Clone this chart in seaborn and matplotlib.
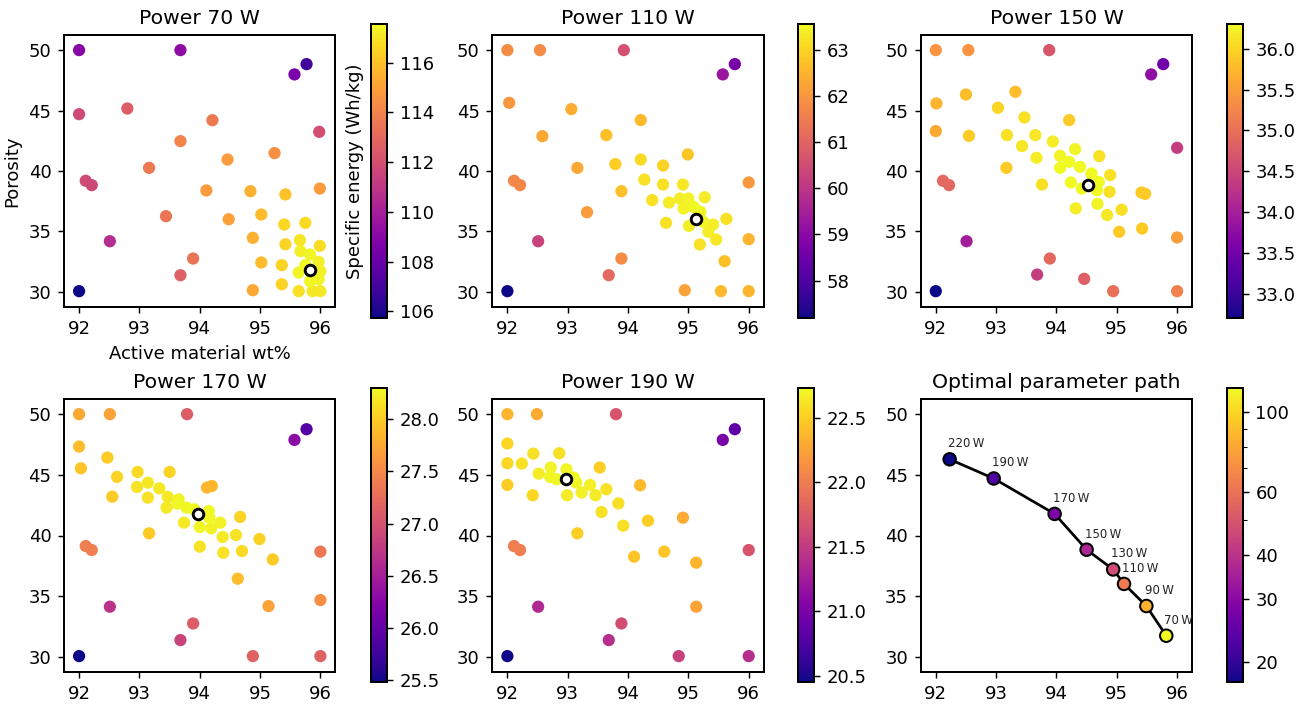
import numpy as np
import pandas as pd
import matplotlib
matplotlib.use("Agg")
import matplotlib.pyplot as plt
import seaborn as sns
from matplotlib.colors import Normalize, LogNorm
from matplotlib.cm import ScalarMappable
from matplotlib.ticker import FixedLocator, NullFormatter, FuncFormatter

# ---------------- data ----------------
x70 = [92.0, 93.68, 95.77, 95.57, 92.0, 92.80, 94.21, 95.98, 93.68, 95.24, 94.46, 93.16, 92.11, 92.21,
       94.11, 94.84, 95.42, 95.99, 93.44, 94.48, 95.02, 95.40, 95.75, 92.51, 94.88, 95.42, 95.66, 95.99,
       93.89, 95.02, 95.36, 93.68, 92.0, 94.88, 95.36, 95.64, 95.87, 96.0, 95.67, 95.83, 95.97, 95.64,
       96.0, 95.97, 95.83, 95.75]
y70 = [50.0, 50.0, 48.84, 47.99, 44.70, 45.17, 44.20, 43.24, 42.47, 41.48, 40.95, 40.26, 39.19, 38.83,
       38.39, 38.33, 38.06, 38.55, 36.26, 36.01, 36.40, 35.57, 35.71, 34.19, 34.47, 33.94, 34.28, 33.81,
       32.76, 32.43, 32.21, 31.38, 30.06, 30.14, 30.63, 30.06, 30.06, 30.06, 33.37, 33.09, 32.48, 31.60,
       31.71, 31.05, 30.88, 32.20]
e70 = [109.0, 109.2, 106.9, 108.6, 111.8, 112.6, 113.6, 112.0, 114.0, 114.4, 114.8, 113.6, 111.8, 111.7,
       114.8, 115.5, 116.0, 114.8, 113.5, 115.0, 115.8, 116.6, 116.7, 110.6, 115.5, 116.5, 117.0, 116.8,
       113.4, 115.8, 116.5, 112.7, 105.73, 115.2, 116.5, 116.9, 117.1, 117.1, 117.3, 117.4, 117.3, 117.4,
       117.3, 117.4, 117.5, 117.55]

x110 = [92.0, 92.54, 93.93, 95.77, 95.57, 92.03, 93.06, 94.21, 92.58, 93.64, 94.99, 93.16, 93.79, 94.21,
        94.58, 92.11, 92.21, 96.0, 94.27, 94.58, 94.91, 93.89, 94.40, 94.68, 94.86, 95.0, 95.27, 94.92,
        95.20, 93.32, 94.63, 95.01, 95.25, 95.41, 95.63, 95.33, 95.46, 96.0, 95.19, 92.51, 95.60, 93.89,
        93.68, 92.0, 94.94, 95.54, 96.0, 95.09]
y110 = [50.0, 50.0, 50.0, 48.84, 47.99, 45.64, 45.12, 44.21, 42.88, 42.97, 41.37, 40.26, 40.57, 40.95,
        40.45, 39.19, 38.83, 39.05, 39.29, 38.88, 38.88, 38.33, 37.59, 37.39, 37.72, 37.72, 37.83, 36.90,
        36.62, 36.59, 35.71, 35.46, 35.79, 35.57, 36.04, 34.97, 34.33, 34.36, 33.92, 34.19, 32.54, 32.76,
        31.38, 30.06, 30.14, 30.06, 30.06, 37.03]
e110 = [61.8, 61.8, 60.6, 58.7, 59.3, 62.0, 62.4, 62.6, 62.3, 62.7, 62.8, 62.3, 62.9, 63.1,
        63.0, 61.7, 61.7, 62.0, 63.2, 63.2, 63.3, 62.7, 63.2, 63.35, 63.4, 63.45, 63.35, 63.45,
        63.5, 62.1, 63.2, 63.4, 63.5, 63.4, 63.2, 63.4, 63.3, 62.5, 63.2, 60.3, 62.7, 61.8,
        61.1, 57.19, 62.2, 62.6, 62.5, 63.56]

x150 = [92.0, 92.54, 93.88, 95.77, 95.57, 92.50, 93.32, 92.01, 93.03, 93.47, 94.21, 92.0, 92.55, 93.18,
        93.65, 93.94, 93.43, 94.31, 93.67, 94.71, 96.0, 94.06, 94.21, 94.06, 94.39, 94.58, 94.89, 93.17,
        92.12, 92.22, 93.76, 94.24, 94.70, 94.42, 94.67, 94.88, 95.41, 95.47, 94.68, 94.32, 95.08, 94.84,
        95.04, 95.42, 96.0, 92.51, 93.89, 93.68, 94.46, 92.0, 94.94, 96.0]
y150 = [50.0, 50.0, 50.0, 48.84, 47.99, 46.33, 46.55, 45.59, 45.23, 44.43, 44.21, 43.30, 42.91, 42.97,
        42.97, 42.44, 42.06, 41.81, 41.09, 41.23, 41.92, 41.26, 40.76, 40.26, 40.34, 39.79, 39.66, 40.26,
        39.19, 38.83, 38.88, 39.05, 39.10, 38.55, 38.41, 38.28, 38.22, 38.11, 37.28, 36.91, 36.80, 36.36,
        34.97, 35.24, 34.50, 34.19, 32.76, 31.43, 31.08, 30.06, 30.06, 30.06]
e150 = [35.4, 35.4, 34.7, 33.5, 33.8, 35.8, 35.8, 35.7, 36.0, 36.1, 35.9, 35.6, 35.9, 36.1,
        36.15, 36.2, 36.15, 36.25, 36.2, 36.1, 34.4, 36.25, 36.3, 36.3, 36.3, 36.3, 36.1, 35.9,
        34.9, 34.9, 36.1, 36.3, 36.3, 36.3, 36.3, 36.1, 35.9, 35.9, 36.25, 36.2, 36.1, 36.15,
        35.9, 35.9, 35.5, 34.0, 34.9, 34.4, 34.8, 32.71, 35.0, 35.2]

x170 = [92.0, 92.51, 93.79, 95.77, 95.57, 92.0, 92.47, 92.03, 92.97, 93.50, 92.63, 94.20, 92.96, 93.14,
        93.33, 92.55, 93.14, 93.47, 93.65, 93.45, 93.78, 93.91, 94.15, 94.67, 93.74, 94.0, 94.19, 94.34,
        94.38, 94.60, 94.99, 93.16, 92.11, 92.21, 94.0, 94.39, 94.70, 95.21, 96.0, 94.63, 95.14, 96.0,
        92.51, 93.89, 93.68, 92.0, 94.88, 96.0, 93.63, 94.16, 94.12]
y170 = [50.0, 50.0, 50.0, 48.76, 47.88, 47.33, 46.42, 45.54, 45.24, 45.24, 44.83, 44.08, 44.0, 44.35,
        43.89, 43.20, 43.12, 43.18, 42.98, 42.30, 42.30, 42.16, 42.02, 41.53, 41.06, 40.70, 40.59, 41.06,
        39.88, 40.04, 39.71, 40.18, 39.13, 38.80, 39.08, 38.58, 38.72, 38.03, 38.67, 36.44, 34.18, 34.68,
        34.13, 32.75, 31.38, 30.06, 30.06, 30.06, 42.63, 41.47, 43.95]
e170 = [27.75, 27.7, 27.1, 25.9, 26.3, 27.9, 28.0, 27.95, 28.1, 28.05, 28.05, 27.85, 28.15, 28.2,
        28.2, 28.0, 28.15, 28.2, 28.25, 28.2, 28.28, 28.3, 28.28, 28.05, 28.2, 28.27, 28.25, 28.25,
        28.2, 28.15, 28.05, 28.0, 27.4, 27.4, 28.15, 28.15, 28.1, 28.0, 27.35, 27.9, 27.7, 27.55,
        26.7, 27.1, 26.85, 25.48, 27.15, 27.15, 28.28, 28.28, 27.85]

x190 = [92.0, 92.49, 93.80, 95.77, 95.57, 92.0, 92.43, 92.86, 92.0, 92.24, 92.52, 92.72, 93.53, 92.0,
        92.98, 92.82, 93.14, 93.23, 93.37, 94.20, 92.42, 92.99, 93.46, 93.64, 93.84, 93.56, 93.92, 94.33,
        94.91, 93.16, 92.11, 92.21, 94.10, 94.60, 95.13, 96.0, 95.13, 92.51, 93.89, 93.68, 92.0, 94.84,
        96.0, 92.71, 93.10]
y190 = [50.0, 50.0, 50.0, 48.76, 47.88, 47.58, 46.75, 46.78, 45.96, 45.93, 45.10, 45.60, 45.60, 44.17,
        45.46, 44.64, 44.36, 43.54, 44.17, 44.14, 43.32, 43.32, 43.32, 43.81, 42.65, 41.94, 40.81, 41.22,
        41.47, 40.18, 39.13, 38.80, 38.25, 38.67, 37.76, 38.80, 34.13, 34.13, 32.75, 31.38, 30.06, 30.06,
        30.06, 44.83, 44.77]
e190 = [22.35, 22.3, 21.7, 20.85, 21.0, 22.55, 22.6, 22.6, 22.55, 22.6, 22.65, 22.7, 22.5, 22.5,
        22.72, 22.72, 22.7, 22.68, 22.68, 22.4, 22.55, 22.65, 22.65, 22.6, 22.6, 22.6, 22.6, 22.5,
        22.3, 22.5, 22.0, 22.0, 22.45, 22.45, 22.35, 21.7, 22.25, 21.35, 21.65, 21.4, 20.45, 21.55,
        21.4, 22.72, 22.73]

# optimum locations (black rings) for each power
opt_power = [70, 110, 150, 170, 190]
opt_x = [95.82, 95.13, 94.52, 93.97, 92.97]
opt_y = [31.79, 36.01, 38.88, 41.80, 44.69]

# optimal parameter path
path_power = [220, 190, 170, 150, 130, 110, 90, 70]
path_x = [92.23, 92.96, 93.97, 94.50, 94.94, 95.12, 95.49, 95.82]
path_y = [46.28, 44.70, 41.78, 38.83, 37.20, 36.01, 34.19, 31.74]
path_e = [17.6, 22.73, 28.3, 36.35, 47.0, 63.56, 85.0, 117.0]

panels = [
    ("Power 70 W", x70, y70, e70),
    ("Power 110 W", x110, y110, e110),
    ("Power 150 W", x150, y150, e150),
    ("Power 170 W", x170, y170, e170),
    ("Power 190 W", x190, y190, e190),
]

# ---------------- layout ----------------
W, H = 1305, 704
fig = plt.figure(figsize=(W / 130, H / 130), dpi=130)

col_ax_left = [64, 492.3, 920.7]
col_cb_left = [371, 798.3, 1226.7]
row_ax = [(35, 307), (399, 672)]
row_cb = [(24, 318), (388, 682)]
ax_w = 271.5
cb_w = 16

def add_ax(left, top, bottom, width):
    return fig.add_axes([left / W, 1 - bottom / H, width / W, (bottom - top) / H])

cmap = "plasma"
for i in range(6):
    r, c = divmod(i, 3)
    ax = add_ax(col_ax_left[c], row_ax[r][0], row_ax[r][1], ax_w)
    cax = add_ax(col_cb_left[c], row_cb[r][0], row_cb[r][1], cb_w)
    if i < 5:
        title, xs, ys, es = panels[i]
        df = pd.DataFrame({"x": xs, "y": ys, "e": es})
        norm = Normalize(vmin=min(es), vmax=max(es))
        sns.scatterplot(data=df, x="x", y="y", hue="e", palette=cmap, hue_norm=norm,
                        s=46, linewidth=0, legend=False, ax=ax, zorder=2)
        sns.scatterplot(x=[opt_x[i]], y=[opt_y[i]], s=34, facecolor="white",
                        edgecolor="black", linewidth=1.6, legend=False, ax=ax, zorder=3)
        cb = fig.colorbar(ScalarMappable(norm=norm, cmap=cmap), cax=cax)
        if i == 0:
            cb.set_label("Specific energy (Wh/kg)", fontsize=10)
            cb.ax.yaxis.set_label_position("left")
            ax.set_xlabel("Active material wt%")
            ax.set_ylabel("Porosity")
        else:
            ax.set_xlabel("")
            ax.set_ylabel("")
    else:
        title = "Optimal parameter path"
        dfp = pd.DataFrame({"x": path_x, "y": path_y, "e": path_e, "p": path_power})
        lnorm = LogNorm(vmin=min(path_e), vmax=max(path_e))
        sns.lineplot(data=dfp, x="x", y="y", sort=False, color="black", linewidth=1.5,
                     ax=ax, zorder=2)
        sns.scatterplot(data=dfp, x="x", y="y", hue="e", palette=cmap, hue_norm=lnorm,
                        s=48, edgecolor="black", linewidth=1.1, legend=False, ax=ax, zorder=3)
        for px, py, pp in zip(path_x, path_y, path_power):
            ax.annotate(f"{pp}\u2009W", (px, py), xytext=(-1, 5), textcoords="offset points",
                        ha="left", va="bottom", fontsize=6.5, color="#222222")
        cb = fig.colorbar(ScalarMappable(norm=lnorm, cmap=cmap), cax=cax)
        cb.ax.yaxis.set_major_locator(FixedLocator([20, 30, 40, 60, 100]))
        cb.ax.yaxis.set_major_formatter(FuncFormatter(lambda v, p: f"{v:g}"))
        cb.ax.yaxis.set_minor_locator(FixedLocator([50, 70, 80, 90]))
        cb.ax.yaxis.set_minor_formatter(NullFormatter())
        ax.set_xlabel("")
        ax.set_ylabel("")
    ax.set_title(title, fontsize=11.3)
    ax.set_xlim(91.75, 96.25)
    ax.set_ylim(28.75, 51.25)
    ax.set_xticks([92, 93, 94, 95, 96])
    ax.set_yticks([30, 35, 40, 45, 50])
    for sp in ax.spines.values():
        sp.set_linewidth(1.1)
    cb.outline.set_linewidth(1.1)

fig.savefig("out.png", dpi=130)
